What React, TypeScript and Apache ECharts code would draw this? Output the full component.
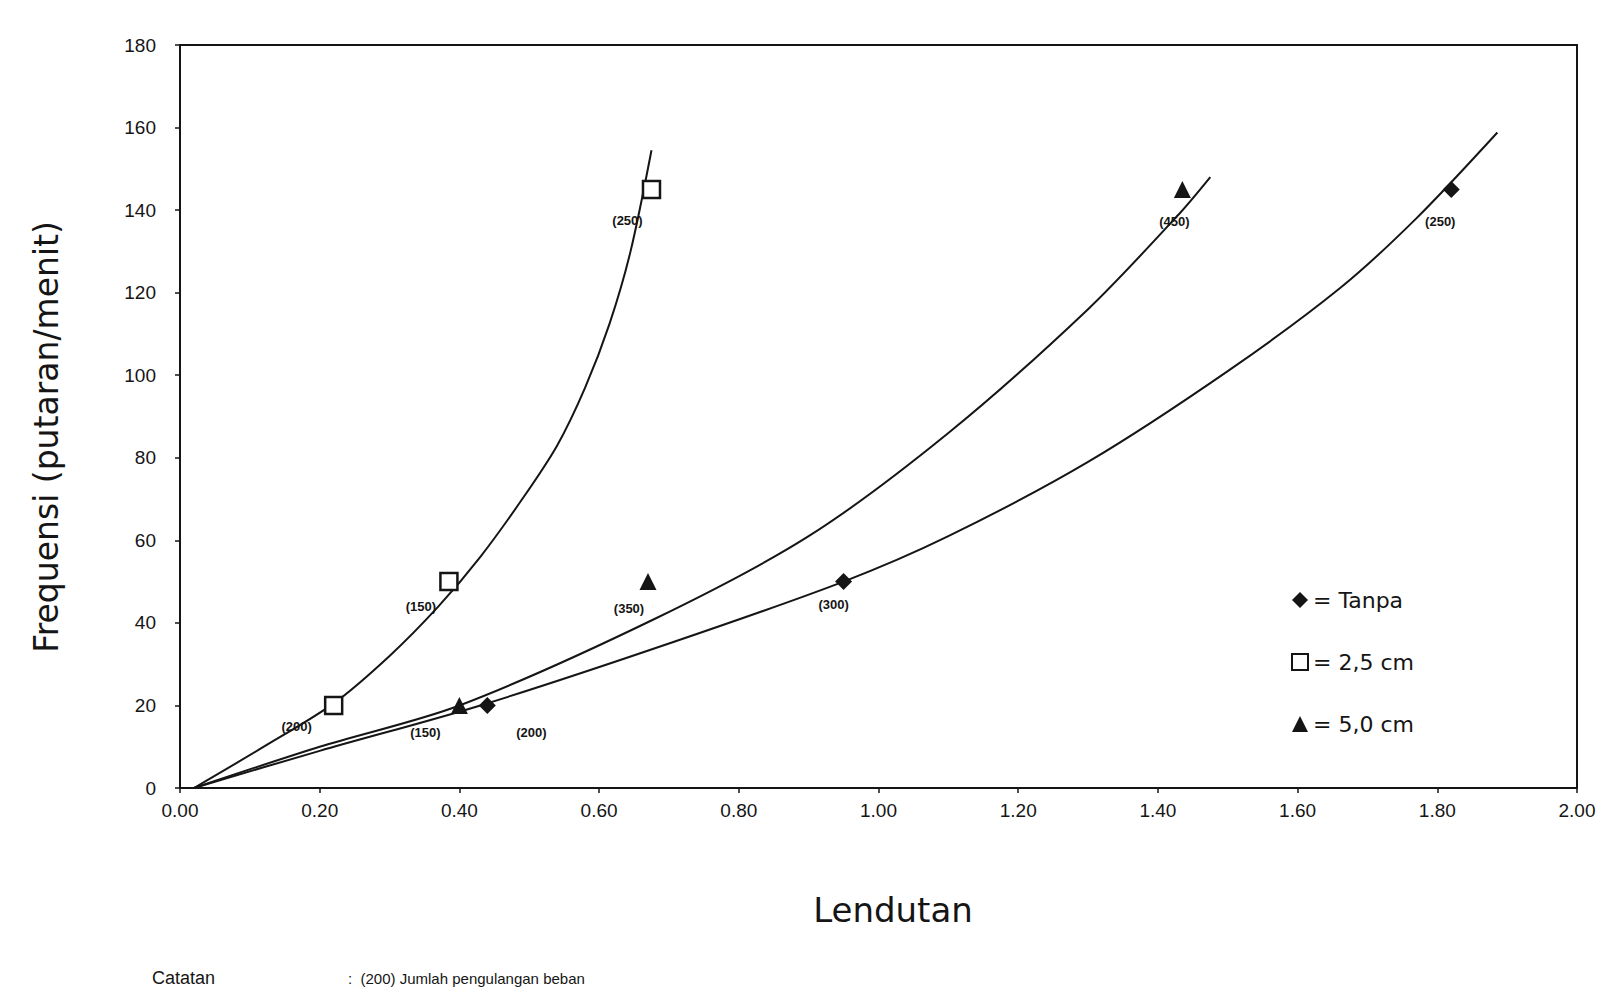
import React, { useEffect, useRef } from "react";
import * as echarts from "echarts";

// ---- data ----
const seriesNames = ["Tanpa", "2,5 cm", "5,0 cm"];

const tanpaX = [0.44, 0.95, 1.82];
const tanpaY = [20, 50, 145];
const tanpaLabels = ["(200)", "(300)", "(250)"];

const cm25X = [0.22, 0.385, 0.675];
const cm25Y = [20, 50, 145];
const cm25Labels = ["(200)", "(150)", "(250)"];

const cm50X = [0.4, 0.67, 1.435];
const cm50Y = [20, 50, 145];
const cm50Labels = ["(150)", "(350)", "(450)"];

// trend curves
const curveTanpaX = [0.02, 0.2, 0.43, 0.7, 0.95, 1.1, 1.3, 1.5, 1.66, 1.77, 1.886];
const curveTanpaY = [0, 9, 20, 35, 50, 61, 79, 101, 121, 138, 158.8];

const curve25X = [0.02, 0.12, 0.22, 0.3, 0.37, 0.43, 0.49, 0.54, 0.58, 0.615, 0.645, 0.675];
const curve25Y = [0, 10, 20.5, 32, 44, 56, 70, 83, 97, 112.5, 130, 154.5];

const curve50X = [0.02, 0.2, 0.4, 0.68, 0.9, 1.1, 1.3, 1.43, 1.475];
const curve50Y = [0, 10, 20, 41, 61, 86, 116, 139, 148];

const xAxisName = "Lendutan";
const yAxisName = "Frequensi (putaran/menit)";
const noteLeft = "Catatan";
const noteRight = ":  (200) Jumlah pengulangan beban";

const zip = (xs: number[], ys: number[]) => xs.map((x, i) => [x, ys[i]]);

const INK = "#151515";
const FONT = "'Liberation Sans', Arial, sans-serif";

export default function App() {
  const ref = useRef<HTMLDivElement>(null);
  useEffect(() => {
    if (!ref.current) return;
    const chart = echarts.init(ref.current, undefined, { renderer: "svg" });

    const curve = (xs: number[], ys: number[]) => ({
      type: "line",
      data: zip(xs, ys),
      smooth: 0.3,
      symbol: "none",
      silent: true,
      lineStyle: { color: INK, width: 2 },
      z: 2,
    });

    const points = (
      name: string,
      xs: number[],
      ys: number[],
      labels: string[],
      offsets: number[][],
      symbol: string,
      fill: string
    ) => ({
      type: "scatter",
      name,
      symbol,
      symbolSize: 17,
      itemStyle: { color: fill, borderColor: INK, borderWidth: symbol === "rect" ? 2.5 : 0, opacity: 1 },
      z: 5,
      label: {
        show: true,
        position: "inside",
        fontFamily: FONT,
        fontSize: 13,
        fontWeight: "bold",
        color: INK,
        formatter: (p: any) => labels[p.dataIndex],
      },
      data: xs.map((x, i) => ({
        value: [x, ys[i]],
        label: { offset: offsets[i] },
      })),
    });

    chart.setOption({
      animation: false,
      backgroundColor: "#ffffff",
      grid: {
        left: 180,
        top: 45,
        right: 37,
        bottom: 205,
        show: true,
        borderColor: INK,
        borderWidth: 2,
        backgroundColor: "transparent",
      },
      legend: {
        orient: "vertical",
        left: 1286,
        top: 584,
        itemGap: 40,
        itemWidth: 16,
        itemHeight: 16,
        data: seriesNames,
        formatter: (n: string) => "= " + n,
        textStyle: { fontFamily: "'DejaVu Sans', sans-serif", fontSize: 22, color: INK },
      },
      xAxis: {
        type: "value",
        min: 0,
        max: 2,
        interval: 0.2,
        axisLine: { show: true, onZero: false, lineStyle: { color: INK, width: 2 } },
        axisTick: { show: true, length: 5, lineStyle: { color: INK, width: 1.5 } },
        splitLine: { show: false },
        axisLabel: {
          margin: 13,
          fontFamily: FONT,
          fontSize: 19,
          color: INK,
          formatter: (v: number) => v.toFixed(2),
        },
      },
      yAxis: {
        type: "value",
        min: 0,
        max: 180,
        interval: 20,
        axisLine: { show: true, onZero: false, lineStyle: { color: INK, width: 2 } },
        axisTick: { show: true, length: 5, lineStyle: { color: INK, width: 1.5 } },
        splitLine: { show: false },
        axisLabel: { margin: 24, fontFamily: FONT, fontSize: 19, color: INK },
      },
      graphic: [
        {
          type: "text",
          x: 46,
          y: 437,
          rotation: Math.PI / 2,
          style: {
            text: yAxisName,
            fontFamily: "'DejaVu Sans', sans-serif",
            fontSize: 33,
            fill: INK,
            align: "center",
            verticalAlign: "middle",
          },
        },
        {
          type: "text",
          x: 893,
          y: 910,
          style: {
            text: xAxisName,
            fontFamily: "'DejaVu Sans', sans-serif",
            fontSize: 34,
            fill: INK,
            align: "center",
            verticalAlign: "middle",
          },
        },
        {
          type: "text",
          x: 152,
          y: 978,
          style: { text: noteLeft, fontFamily: FONT, fontSize: 18, fill: INK, verticalAlign: "middle" },
        },
        {
          type: "text",
          x: 348,
          y: 978,
          style: { text: noteRight, fontFamily: FONT, fontSize: 15, fill: INK, verticalAlign: "middle" },
        },
      ],
      series: [
        curve(curveTanpaX, curveTanpaY),
        curve(curve25X, curve25Y),
        curve(curve50X, curve50Y),
        points(seriesNames[0], tanpaX, tanpaY, tanpaLabels, [[44, 27], [-10, 23], [-11, 32]], "diamond", INK),
        points(seriesNames[1], cm25X, cm25Y, cm25Labels, [[-37, 21], [-28, 25], [-24, 31]], "rect", "#ffffff"),
        points(seriesNames[2], cm50X, cm50Y, cm50Labels, [[-34, 27], [-19, 27], [-8, 32]], "triangle", INK),
      ],
    });
    return () => chart.dispose();
  }, []);

  return (
    <div
      ref={ref}
      style={{ position: "fixed", left: 0, top: 0, width: 1614, height: 993, background: "#fff" }}
    />
  );
}
